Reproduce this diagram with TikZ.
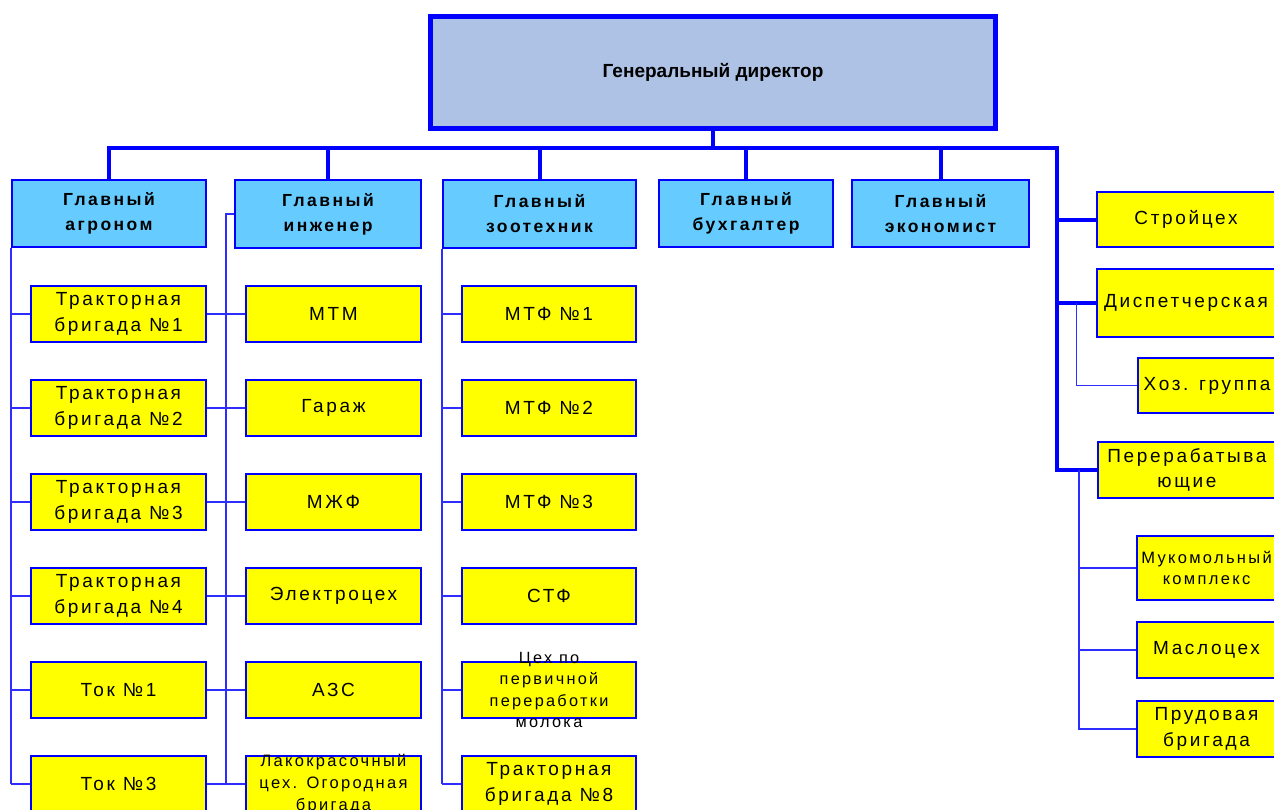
\documentclass[tikz,border=0pt]{standalone}
\usepackage{fontspec}
\setmainfont{Liberation Sans}
\newfontfamily\boxfont[LetterSpace=14]{Liberation Sans}
\usetikzlibrary{positioning}
\definecolor{orgblue}{RGB}{0,0,255}
\definecolor{thinblue}{RGB}{45,45,255}
\definecolor{dirfill}{RGB}{173,194,228}
\definecolor{headfill}{RGB}{102,204,255}
\definecolor{unitfill}{RGB}{255,255,0}

\begin{document}
\begin{tikzpicture}[x=1pt, y=-1pt, node distance = 36pt,
director/.style={rectangle, draw=orgblue, fill=dirfill, line width=5pt, minimum width=565pt, minimum height=112pt, font=\bfseries\fontsize{19}{24}\selectfont},
head/.style={rectangle, draw=orgblue, fill=headfill, line width=2pt, minimum height=67pt, align=center, inner sep=1pt, font=\boxfont\bfseries\fontsize{17.5}{25}\selectfont},
unit/.style={rectangle, draw=orgblue, fill=unitfill, line width=2pt, minimum width=175pt, minimum height=56pt, align=center, inner sep=1pt, font=\boxfont\fontsize{19}{25.5}\selectfont},
smalltext/.style={align=center, inner sep=0pt, font=\boxfont\fontsize{16.3}{21.3}\selectfont},
bus/.style={draw=orgblue, line width=4pt},
link/.style={draw=thinblue, line width=1.3pt},
]
\clip (0,0) rectangle (1274,809);

%Nodes
\node [director] (dir) at (713,72.5) {Генеральный директор};

\node [head, minimum width=194pt] (agr) at (109,213.5) {Главный\\агроном};
\node [head, minimum width=186pt, minimum height=68pt] (ing) at (328,214) {Главный\\инженер};
\node [head, minimum width=193pt, minimum height=68pt] (zoo) at (539.5,214) {Главный\\зоотехник};
\node [head, minimum width=174pt] (buh) at (746,213.5) {Главный\\бухгалтер};
\node [head, minimum width=177pt] (eco) at (940.5,213.5) {Главный\\экономист};

\node [unit] (a1) at (118.5,314) {Тракторная\\бригада №1};
\node [unit] (a2) [below = of a1] {Тракторная\\бригада №2};
\node [unit] (a3) [below = of a2] {Тракторная\\бригада №3};
\node [unit] (a4) [below = of a3] {Тракторная\\бригада №4};
\node [unit] (a5) [below = of a4] {Ток №1};
\node [unit] (a6) [below = of a5] {Ток №3};

\node [unit] (b1) at (333.5,314) {МТМ};
\node [unit] (b2) [below = of b1] {Гараж};
\node [unit] (b3) [below = of b2] {МЖФ};
\node [unit] (b4) [below = of b3] {Электроцех};
\node [unit] (b5) [below = of b4] {АЗС};
\node [unit] (b6) [below = of b5] {};
\node [smalltext, font=\boxfont\fontsize{16.5}{22}\selectfont] (b6t) at (b6) {Лакокрасочный\\цех. Огородная\\бригада};

\node [unit, minimum width=174pt] (c1) at (549,314) {МТФ №1};
\node [unit, minimum width=174pt] (c2) [below = of c1] {МТФ №2};
\node [unit, minimum width=174pt] (c3) [below = of c2] {МТФ №3};
\node [unit, minimum width=174pt] (c4) [below = of c3] {СТФ};
\node [unit, minimum width=174pt] (c5) [below = of c4] {};
\node [smalltext] (c5t) at (c5) {Цех по\\первичной\\переработки\\молока};
\node [unit, minimum width=174pt] (c6) [below = of c5] {Тракторная\\бригада №8};

\node [unit, minimum width=179pt, minimum height=55pt] (stroy) at (1186,219.5) {Стройцех};
\node [unit, minimum width=179pt, minimum height=68pt] (disp) at (1186,303) {Диспетчерская};
\node [unit, minimum width=138pt, minimum height=55pt] (hoz) at (1207,385.5) {Хоз. группа};
\node [unit, minimum width=178pt] (pere) at (1187,470) {Перерабатыва\\ющие};
\node [unit, minimum width=139pt, minimum height=64pt, font=\boxfont\fontsize{16.5}{21}\selectfont] (muk) at (1206.5,568) {Мукомольный\\комплекс};
\node [unit, minimum width=139pt] (masl) at (1206.5,650) {Маслоцех};
\node [unit, minimum width=139pt] (prud) at (1206.5,729) {Прудовая\\бригада};

% Paths
\coordinate (busL) at (108,148);
\coordinate (busR) at (1057,148);
\draw [bus] (dir.south) -- (dir.south |- busL);
\draw [bus] (agr.north) |- (busR) -- (busR |- pere.west) -- (pere.west);
\foreach \h in {ing, zoo, buh, eco}
  \draw [bus] (\h.north) -- (\h.north |- busL);
\draw [bus] (busR |- stroy.west) -- (stroy.west);
\draw [bus] (busR |- disp.west) -- (disp.west);

\draw [link] (agr.south west) -- (agr.south west |- a6.west);
\draw [link] (ing.west) -- ++(-8,0) coordinate (bv) -- (bv |- b6.west);
\draw [link] (zoo.south west) -- (zoo.south west |- c6.west);
\foreach \i in {1,...,6} {
  \draw [link] (agr.south west |- a\i.west) -- (a\i.west);
  \draw [link] (a\i.east) -- (b\i.west);
  \draw [link] (zoo.south west |- c\i.west) -- (c\i.west);
}

\draw [link] ([xshift=-19pt]disp.west) |- (hoz.west);
\draw [link] ([xshift=-18pt]pere.west) |- (prud.west);
\draw [link] ([xshift=-18pt]pere.west |- muk.west) -- (muk.west);
\draw [link] ([xshift=-18pt]pere.west |- masl.west) -- (masl.west);
\end{tikzpicture}
\end{document}
